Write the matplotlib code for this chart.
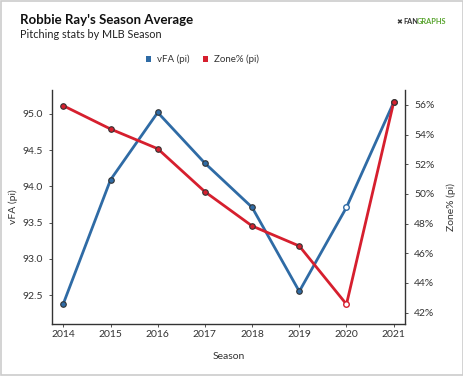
import matplotlib
matplotlib.use("Agg")
import matplotlib.pyplot as plt
from matplotlib.patches import Rectangle
from matplotlib.ticker import FuncFormatter

plt.rcParams['font.family'] = ['Lato', 'DejaVu Sans']

seasons = [2014, 2015, 2016, 2017, 2018, 2019, 2020, 2021]
vfa = [92.38, 94.09, 95.02, 94.32, 93.71, 92.55, 93.71, 95.16]
zone_pct = [55.95, 54.38, 53.05, 50.15, 47.84, 46.49, 42.56, 56.18]
open_season = 2020

blue = "#2f6ba5"
red = "#d61f2e"
edge = "#333333"

fig = plt.figure(figsize=(4.64, 3.77), dpi=100)
fig.patch.set_facecolor("white")
fig.add_artist(Rectangle((0.002, 0.004), 0.996, 0.993, transform=fig.transFigure,
                         fill=False, edgecolor="#cccccc", linewidth=1.2))

ax = fig.add_axes([52/464, 1-324/377, (405-52)/464, (324-90)/377])
ax2 = ax.twinx()

def draw(a, vals, color, z):
    a.plot(seasons, vals, color=color, linewidth=2.0, zorder=z)
    for s, v in zip(seasons, vals):
        if s == open_season:
            a.plot(s, v, 'o', ms=4, mfc="white", mec=color, mew=1.0, zorder=z+1)
        else:
            a.plot(s, v, 'o', ms=4, mfc=color, mec=edge, mew=0.8, zorder=z+1)

draw(ax, vfa, blue, 2)
draw(ax2, zone_pct, red, 2)

ax.set_xlim(2013.76, 2021.24)
ax.set_ylim(92.10, 95.33)
ax2.set_ylim(41.23, 57.01)
ax.set_xticks(seasons)
ax.set_yticks([92.5, 93.0, 93.5, 94.0, 94.5, 95.0])
ax.yaxis.set_major_formatter(FuncFormatter(lambda v, p: f"{v:.1f}"))
ax2.set_yticks([42, 44, 46, 48, 50, 52, 54, 56])
ax2.yaxis.set_major_formatter(FuncFormatter(lambda v, p: f"{v:.0f}%"))

for a in (ax, ax2):
    a.spines['top'].set_visible(False)
    for sp in a.spines.values():
        sp.set_color("#333333")
        sp.set_linewidth(1.0)
    a.tick_params(labelsize=7.5, colors="#333333", length=2.5, width=0.6, pad=2)
ax.tick_params(axis='y', pad=4)
ax2.tick_params(axis='y', pad=4)
ax.spines['right'].set_visible(False)
ax2.spines['left'].set_visible(False)
ax2.spines['bottom'].set_visible(False)

ax.set_xlabel("Season", fontsize=7.5, color="#333333", labelpad=9)
ax.set_ylabel("vFA (pi)", fontsize=7.5, color="#333333", labelpad=3)
ax2.set_ylabel("Zone% (pi)", fontsize=7.5, color="#333333", labelpad=9)

fig.text(20/464, 1-20/377, "Robbie Ray's Season Average", fontsize=9.5, fontweight="bold",
         color="#111111", va="center", ha="left")
fig.text(20/464, 1-34/377, "Pitching stats by MLB Season", fontsize=7.8,
         color="#222222", va="center", ha="left")
fig.text(396/464, 1-22/377, "\u2716", fontsize=5, color="#333333", va="center", ha="left")
fig.text(403/464, 1-22/377, "FAN", fontsize=5.3, fontweight="bold", color="#333333",
         va="center", ha="left")
fig.text(417/464, 1-22/377, "GRAPHS", fontsize=5.3, fontweight="bold", color="#5aa531",
         va="center", ha="left")

fig.add_artist(Rectangle((146/464, 1-62/377), 5/464, 6/377, transform=fig.transFigure,
                         facecolor=blue, edgecolor="none"))
fig.text(157/464, 1-59/377, "vFA (pi)", fontsize=7, color="#333333", va="center")
fig.add_artist(Rectangle((203/464, 1-62/377), 5/464, 6/377, transform=fig.transFigure,
                         facecolor=red, edgecolor="none"))
fig.text(214/464, 1-59/377, "Zone% (pi)", fontsize=7, color="#333333", va="center")

fig.savefig("out.png", dpi=100)
